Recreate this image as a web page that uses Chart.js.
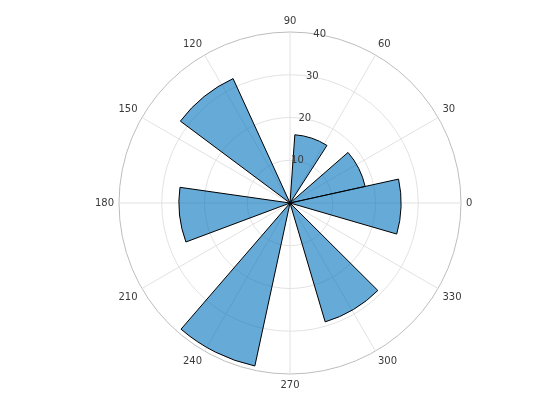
<!DOCTYPE html>
<html><head><meta charset="utf-8">
<script src="https://cdn.jsdelivr.net/npm/chart.js@4.4.1/dist/chart.umd.min.js"></script>
<style>html,body{margin:0;padding:0;background:#fff}</style>
</head><body>
<canvas id="c" width="560" height="420"></canvas>
<script>
// Bin edges (radians) and counts, counter-clockwise from 0 (east)
const binEdgesRad = [1, 1.5, 2, 2.5, 3, 3.5, 4, 4.5, 5, 5.5, 6, 6.5, 7];
const binCounts = [16, 0, 32, 0, 26, 0, 39, 0, 29, 0, 26, 18];
const thetaTickLabels = ['0', '30', '60', '90', '120', '150', '180', '210', '240', '270', '300', '330'];
const rTicks = [10, 20, 30, 40];
const rMax = 40;
const rLabelAngleDeg = 80;

const toDeg = r => r * 180 / Math.PI;
const edgesDeg = binEdgesRad.map(toDeg);
// Chart.js draws arcs clockwise from the top; reverse bins so they sweep CCW in math terms
const lastEdge = edgesDeg[edgesDeg.length - 1];
const startOffset = (((90 - lastEdge) % 360) + 360) % 360;
const widthsRev = [];
const countsRev = [];
for (let i = binCounts.length - 1; i >= 0; i--) {
  widthsRev.push(edgesDeg[i + 1] - edgesDeg[i]);
  countsRev.push(binCounts[i]);
}
const dataVals = [0].concat(countsRev);
const arcAngles = [startOffset].concat(widthsRev);

// point labels in Chart.js order (clockwise from top, 30 deg apart)
const nSpokes = thetaTickLabels.length;
const spokeLabels = [];
for (let i = 0; i < nSpokes; i++) {
  const k = (((nSpokes / 4) - i) % nSpokes + nSpokes) % nSpokes;
  spokeLabels.push(thetaTickLabels[k]);
}

const textColor = '#3a3a3a';

const rLabelPlugin = {
  id: 'rlabels',
  afterDatasetsDraw(chart) {
    const s = chart.scales.r;
    const ctx = chart.ctx;
    ctx.save();
    ctx.font = '10px "DejaVu Sans"';
    ctx.fillStyle = textColor;
    ctx.textAlign = 'center';
    ctx.textBaseline = 'middle';
    const a = rLabelAngleDeg * Math.PI / 180;
    rTicks.forEach(v => {
      const d = s.getDistanceFromCenterForValue(v);
      ctx.fillText(String(v), s.xCenter + d * Math.cos(a), s.yCenter - d * Math.sin(a));
    });
    ctx.restore();
  }
};

new Chart(document.getElementById('c'), {
  type: 'polarArea',
  data: {
    labels: spokeLabels,
    datasets: [{
      data: dataVals,
      angle: ctx => arcAngles[ctx.dataIndex],
      backgroundColor: 'rgba(0,114,189,0.6)',
      borderColor: '#000000',
      borderWidth: ctx => ctx.dataIndex === 0 ? 0 : 1,
      borderJoinStyle: 'miter',
      circular: true
    }]
  },
  options: {
    responsive: false,
    animation: false,
    events: [],
    layout: { padding: { left: 20, right: 0, top: 15, bottom: 29 } },
    plugins: { legend: { display: false }, tooltip: { enabled: false } },
    scales: {
      r: {
        startAngle: 0,
        min: 0,
        max: rMax,
        ticks: { display: false, stepSize: 10 },
        grid: {
          circular: true,
          lineWidth: 1,
          color: c => (c.tick && c.tick.value === rMax) ? '#bdbdbd' : '#e2e2e2'
        },
        angleLines: { display: true, color: '#e2e2e2', lineWidth: 1 },
        pointLabels: {
          display: true,
          padding: 5,
          color: textColor,
          font: { family: 'DejaVu Sans', size: 10 }
        }
      }
    }
  },
  plugins: [rLabelPlugin]
});
</script>
</body></html>
